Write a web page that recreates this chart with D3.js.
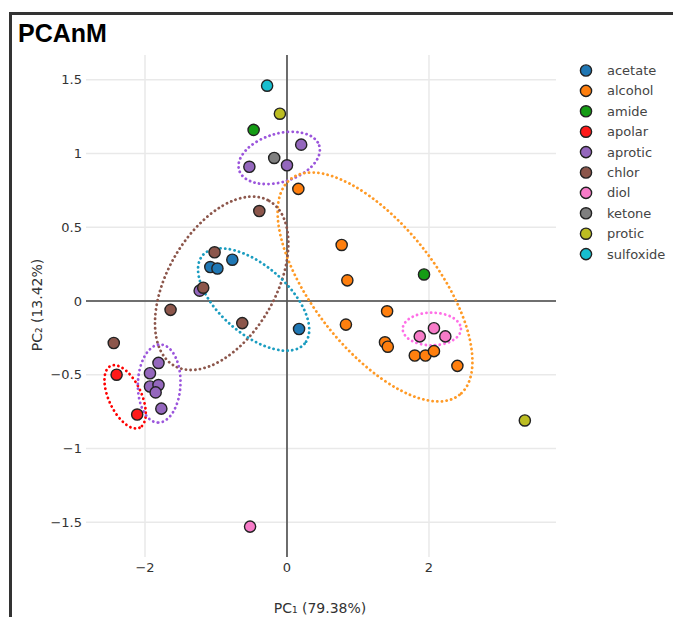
<!DOCTYPE html>
<html>
<head>
<meta charset="utf-8">
<script src="https://cdn.jsdelivr.net/npm/d3@7"></script>
<style>
  body { margin: 0; background: #fff; }
  text { font-family: "DejaVu Sans", Verdana, sans-serif; }
</style>
</head>
<body>
<div class="canvas"></div>
<script>
// solvent classes and their colours
const groups = ["acetate", "alcohol", "amide", "apolar", "aprotic", "chlor", "diol", "ketone", "protic", "sulfoxide"]
const colors = ["#1f77b4", "#ff7f0e", "#149c14", "#ff1a1a", "#9467bd", "#8c564b", "#f77bc8", "#7f7f7f", "#bcbd22", "#17becf"]

// scores, one entry per solvent
const pointGroup = [
    "acetate", "acetate", "acetate", "acetate",
    "alcohol", "alcohol", "alcohol", "alcohol", "alcohol", "alcohol", "alcohol", "alcohol", "alcohol", "alcohol", "alcohol",
    "amide", "amide",
    "apolar", "apolar",
    "aprotic", "aprotic", "aprotic", "aprotic", "aprotic", "aprotic", "aprotic", "aprotic", "aprotic", "aprotic",
    "chlor", "chlor", "chlor", "chlor", "chlor", "chlor",
    "diol", "diol", "diol", "diol",
    "ketone",
    "protic", "protic",
    "sulfoxide"
]
const pc1 = [
    -0.77, -1.08, -0.98, 0.17,
    0.16, 0.77, 0.85, 1.41, 0.83, 1.38, 1.42, 1.80, 1.95, 2.07, 2.40,
    -0.47, 1.93,
    -2.40, -2.11,
    0.20, 0.00, -0.53, -1.23, -1.81, -1.93, -1.93, -1.81, -1.85, -1.77,
    -0.39, -1.02, -1.18, -1.64, -0.63, -2.44,
    1.87, 2.07, 2.23, -0.52,
    -0.18,
    -0.10, 3.35,
    -0.28
]
const pc2 = [
    0.28, 0.23, 0.22, -0.19,
    0.76, 0.38, 0.14, -0.07, -0.16, -0.28, -0.31, -0.37, -0.37, -0.34, -0.44,
    1.16, 0.18,
    -0.50, -0.77,
    1.06, 0.92, 0.91, 0.07, -0.42, -0.49, -0.58, -0.57, -0.62, -0.73,
    0.61, 0.33, 0.09, -0.06, -0.15, -0.285,
    -0.24, -0.185, -0.24, -1.53,
    0.97,
    1.27, -0.81,
    1.46
]

// confidence ellipses: centre and semi axes in PC units, tilt in degrees
const ellGroup = ["aprotic", "alcohol", "chlor", "acetate", "diol", "apolar", "aprotic"]
const ellColors = ["#9b55dc", "#ff9a26", "#8c564b", "#1b9dc0", "#ff6ee6", "#ff0000", "#9b55dc"]
const ellCx = [-0.11, 1.24, -0.92, -0.47, 2.04, -2.28, -1.80]
const ellCy = [0.97, 0.095, 0.12, 0.01, -0.19, -0.65, -0.56]
const ellA = [0.59, 1.93, 1.34, 0.95, 0.41, 0.48, 0.55]
const ellB = [0.34, 0.87, 0.76, 0.48, 0.23, 0.23, 0.30]
const ellTilt = [-17, 52, -60, 41, 0, 65, 92]

const xTicks = [-2, 0, 2]
const yTicks = [-1.5, -1, -0.5, 0, 0.5, 1, 1.5]

const width = 673
const height = 617

const svg = d3.select(".canvas").append("svg")
    .attr("width", width)
    .attr("height", height)

svg.append("rect")
    .attr("width", width)
    .attr("height", height)
    .attr("fill", "#fff")

// frame of the panel
svg.append("path")
    .attr("d", "M10.5,620 V13.5 H680")
    .attr("fill", "none")
    .attr("stroke", "#333")
    .attr("stroke-width", 3)

svg.append("text")
    .attr("x", 18)
    .attr("y", 42)
    .attr("font-size", 25)
    .attr("font-weight", "bold")
    .style("font-family", "'Liberation Sans', Arial, sans-serif")
    .attr("fill", "#000")
    .text("PCAnM")

const x = d3.scaleLinear().domain([-2.831, 3.789]).range([86, 556])
const y = d3.scaleLinear().domain([-1.736, 1.668]).range([557, 55])
const color = d3.scaleOrdinal().domain(groups).range(colors)

// grid
svg.append("g").selectAll("line")
    .data(xTicks)
    .enter().append("line")
    .attr("x1", d => x(d)).attr("x2", d => x(d))
    .attr("y1", y.range()[0]).attr("y2", y.range()[1])
    .attr("stroke", "#e9e9e9")
    .attr("stroke-width", 1.5)

svg.append("g").selectAll("line")
    .data(yTicks)
    .enter().append("line")
    .attr("x1", x.range()[0]).attr("x2", x.range()[1])
    .attr("y1", d => y(d)).attr("y2", d => y(d))
    .attr("stroke", "#e9e9e9")
    .attr("stroke-width", 1.5)

// zero lines
svg.append("line")
    .attr("x1", x.range()[0]).attr("x2", x.range()[1])
    .attr("y1", y(0)).attr("y2", y(0))
    .attr("stroke", "#444")
    .attr("stroke-width", 1.7)
svg.append("line")
    .attr("x1", x(0)).attr("x2", x(0))
    .attr("y1", y.range()[0]).attr("y2", y.range()[1])
    .attr("stroke", "#555")
    .attr("stroke-width", 1.7)

const fmt = d3.format("")
svg.append("g").selectAll("text")
    .data(xTicks)
    .enter().append("text")
    .attr("x", d => x(d))
    .attr("y", 572)
    .attr("text-anchor", "middle")
    .attr("font-size", 13)
    .attr("fill", "#333")
    .text(d => fmt(d))

svg.append("g").selectAll("text")
    .data(yTicks)
    .enter().append("text")
    .attr("x", 82)
    .attr("y", d => y(d))
    .attr("dy", "0.35em")
    .attr("text-anchor", "end")
    .attr("font-size", 13)
    .attr("fill", "#333")
    .text(d => fmt(d))

svg.append("text")
    .attr("x", 320)
    .attr("y", 613)
    .attr("text-anchor", "middle")
    .attr("font-size", 14)
    .attr("fill", "#333")
    .text("PC₁ (79.38%)")

svg.append("text")
    .attr("transform", "translate(42," + 305 + ") rotate(-90)")
    .attr("text-anchor", "middle")
    .attr("font-size", 14)
    .attr("fill", "#333")
    .text("PC₂ (13.42%)")

// ellipses
const kx = x(1) - x(0)
const ellipses = ellGroup.map((g, i) => ({
    group: g, col: ellColors[i], cx: ellCx[i], cy: ellCy[i], a: ellA[i], b: ellB[i], tilt: ellTilt[i]
}))

svg.append("g").selectAll("ellipse")
    .data(ellipses)
    .enter().append("ellipse")
    .attr("transform", d => "translate(" + x(d.cx) + "," + y(d.cy) + ") rotate(" + d.tilt + ")")
    .attr("rx", d => d.a * kx)
    .attr("ry", d => d.b * kx)
    .attr("fill", "none")
    .attr("stroke", d => d.col)
    .attr("stroke-width", 2.8)
    .attr("stroke-linecap", "round")
    .attr("stroke-dasharray", "0.1,4.6")

// points
const points = pointGroup.map((g, i) => ({ group: g, pc1: pc1[i], pc2: pc2[i] }))
points.sort((p, q) => groups.indexOf(p.group) - groups.indexOf(q.group))

svg.append("g").selectAll("circle")
    .data(points)
    .enter().append("circle")
    .attr("cx", d => x(d.pc1))
    .attr("cy", d => y(d.pc2))
    .attr("r", 5.6)
    .attr("fill", d => color(d.group))
    .attr("stroke", "#222")
    .attr("stroke-width", 1.4)

// legend
const legend = svg.append("g").selectAll("g")
    .data(groups)
    .enter().append("g")
    .attr("transform", (d, i) => "translate(586," + (70.5 + i * 20.4) + ")")

legend.append("circle")
    .attr("r", 5.6)
    .attr("fill", d => color(d))
    .attr("stroke", "#222")
    .attr("stroke-width", 1.4)

legend.append("text")
    .attr("x", 21)
    .attr("dy", "0.35em")
    .attr("font-size", 13)
    .attr("fill", "#444")
    .text(d => d)
</script>
</body>
</html>
